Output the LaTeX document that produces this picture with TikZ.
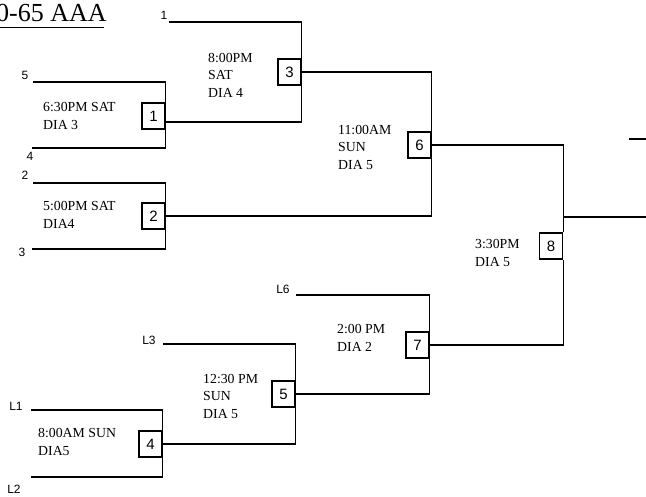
\documentclass[tikz,border=0pt]{standalone}
\usepackage{fontspec}
\setmainfont{Liberation Serif}
\newfontfamily\lblfont{Liberation Sans}
\begin{document}
\begin{tikzpicture}[x=1pt,y=-1pt,
  ln/.style={line width=1.2pt},
  gbox/.style={draw,line width=1.2pt,fill=white,minimum width=23pt,minimum height=26pt,inner sep=0pt,font=\lblfont\fontsize{15}{15}\selectfont},
  seed/.style={inner sep=0pt,font=\lblfont\fontsize{12}{12}\selectfont},
  info/.style={inner sep=0pt,anchor=west,align=left,font=\fontsize{13.8}{17.5}\selectfont}]
\useasboundingbox (0,0) rectangle (646,497);
% title
\node[inner sep=0pt,anchor=base west,font=\fontsize{26}{26}\selectfont] (title) at (-4,22) {0-65 AAA};
\draw[line width=1pt] (0,28) -- (104,28);

% seed labels
\node[seed] (s1) at (164,15) {1};
\node[seed] (s5) at (25,75) {5};
\node[seed] (s4) at (30,156) {4};
\node[seed] (s2) at (25,175) {2};
\node[seed] (s3) at (22,252) {3};
\node[seed] (sL6) at (283,289) {L6};
\node[seed] (sL3) at (149,340) {L3};
\node[seed] (sL1) at (16,406) {L1};
\node[seed] (sL2) at (14,489) {L2};

% game boxes
\node[gbox] (g1) at (153.5,116) {1};
\node[gbox] (g2) at (153.5,216) {2};
\node[gbox] (g3) at (289.5,72) {3};
\node[gbox] (g4) at (150.5,444) {4};
\node[gbox] (g5) at (283.5,394) {5};
\node[gbox] (g6) at (419.5,145) {6};
\node[gbox] (g7) at (417.5,345) {7};
\node[gbox] (g8) at (551,246) {8};

% line start coordinates
\coordinate (a1) at (169,22);
\coordinate (a5) at (33,82);
\coordinate (a4) at (32,148);
\coordinate (a2) at (33,183);
\coordinate (a3) at (32,249);
\coordinate (aL6) at (296,295);
\coordinate (aL3) at (163,344);
\coordinate (aL1) at (31,410);
\coordinate (aL2) at (31,477);
\coordinate (fin) at (646,217);
\coordinate (tA) at (629,139);
\coordinate (tB) at (646,139);

% game 1
\draw[ln] (a5) -| (g1.north east);
\draw[ln] (a4) -| (g1.south east);
% game 2
\draw[ln] (a2) -| (g2.north east);
\draw[ln] (a3) -| (g2.south east);
% game 3
\draw[ln] (a1) -| (g3.north east);
\draw[ln] (g1.east |- 0,122) -| (g3.south east);
% game 6
\draw[ln] (g3.east) -| (g6.north east);
\draw[ln] (g2.east) -| (g6.south east);
% game 4
\draw[ln] (aL1) -| (g4.north east);
\draw[ln] (aL2) -| (g4.south east);
% game 5
\draw[ln] (aL3) -| (g5.north east);
\draw[ln] (g4.east) -| (g5.south east);
% game 7
\draw[ln] (aL6) -| (g7.north east);
\draw[ln] (g5.east) -| (g7.south east);
% game 8
\draw[ln] (g6.east) -| (g8.north east);
\draw[ln] (g7.east) -| (g8.south east);
\draw[ln] (g8.east |- fin) -- (fin);
\draw[ln] (tA) -- (tB);

% game info
\node[info] (i3) at (208,75) {8:00PM\\SAT\\DIA 4};
\node[info] (i1) at (43,116) {6:30PM SAT\\DIA 3};
\node[info] (i2) at (43,215) {5:00PM SAT\\DIA4};
\node[info] (i6) at (338,147) {11:00AM\\SUN\\DIA 5};
\node[info] (i8) at (475,253) {3:30PM\\DIA 5};
\node[info] (i7) at (337,338) {2:00 PM\\DIA 2};
\node[info] (i5) at (203,396) {12:30 PM\\SUN\\DIA 5};
\node[info] (i4) at (38,442) {8:00AM SUN\\DIA5};
\end{tikzpicture}
\end{document}
